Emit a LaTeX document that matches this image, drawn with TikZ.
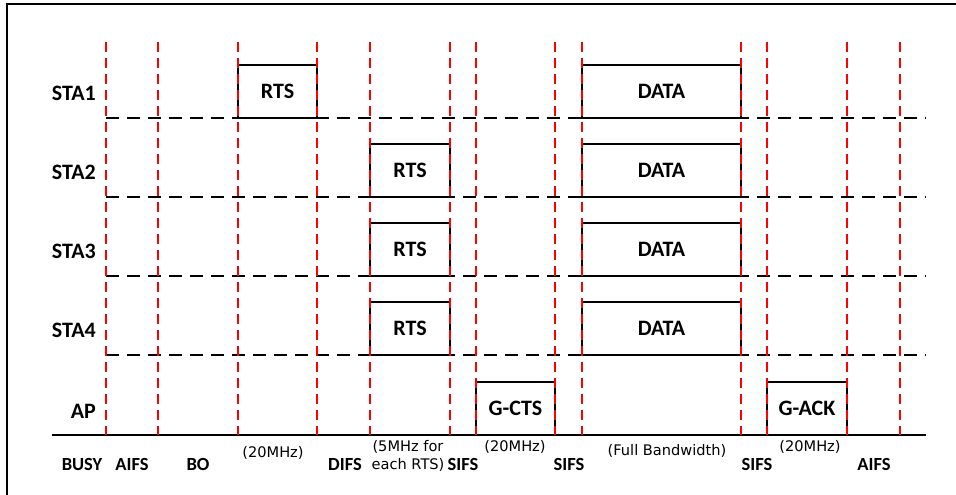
\documentclass[tikz,border=0pt]{standalone}
\usepackage{fontspec}
\setmainfont{Carlito}
\newfontfamily\djv{DejaVu Sans}
\usetikzlibrary{positioning}

\begin{document}
\begin{tikzpicture}[x=1pt, y=-1pt,
    slot/.style={draw=red, line width=1.5pt, dash pattern=on 10pt off 6pt},
    rowline/.style={draw=black, line width=1.8pt, dash pattern=on 13pt off 8pt},
    frame/.style={draw=black, line width=1.8pt},
    pkt/.style={draw=black, fill=white, line width=1.8pt, minimum height=53pt, inner sep=0pt, font=\bfseries\fontsize{22}{26}\selectfont},
    sta/.style={anchor=base east, inner sep=0pt, font=\bfseries\fontsize{22}{26}\selectfont},
    gap/.style={anchor=base, inner sep=0pt, font=\bfseries\fontsize{18.5}{22}\selectfont},
    band/.style={anchor=base, inner sep=0pt, align=center, font=\djv\fontsize{14.6}{18.3}\selectfont}]

    \useasboundingbox (0,0) rectangle (956,495);
    \draw[line width=1.5pt] (7,495) -- (7,4) -- (956,4);

    \node[sta] (sta1) at (96,100) {STA1};
    \node[sta] (sta2) at (96,179) {STA2};
    \node[sta] (sta3) at (96,258) {STA3};
    \node[sta] (sta4) at (96,337) {STA4};
    \node[sta] (ap) at (96,418) {AP};

    \draw[rowline] (106,118) -- (926,118);
    \draw[rowline] (106,197) -- (926,197);
    \draw[rowline] (106,276) -- (926,276);
    \draw[rowline] (106,355) -- (926,355);
    \draw[frame] (52,435) -- (926,435);

    \node[pkt, minimum width=79pt] (rts1) at (277.5,91.5) {RTS};
    \node[pkt, minimum width=80pt] (rts2) at (410,170.5) {RTS};
    \node[pkt, minimum width=80pt] (rts3) at (410,249.5) {RTS};
    \node[pkt, minimum width=80pt] (rts4) at (410,328.5) {RTS};

    \node[pkt, minimum width=159pt] (data1) at (661.5,91.5) {DATA};
    \node[pkt, minimum width=159pt] (data2) at (661.5,170.5) {DATA};
    \node[pkt, minimum width=159pt] (data3) at (661.5,249.5) {DATA};
    \node[pkt, minimum width=159pt] (data4) at (661.5,328.5) {DATA};

    \node[pkt, minimum width=79pt] (gcts) at (515.5,408.5) {G-CTS};
    \node[pkt, minimum width=80pt] (gack) at (807,408.5) {G-ACK};

    \draw[slot] (106,42) -- (106,435);
    \draw[slot] (158,42) -- (158,435);
    \draw[slot] (238,42) -- (238,435);
    \draw[slot] (317,42) -- (317,435);
    \draw[slot] (370,42) -- (370,435);
    \draw[slot] (450,42) -- (450,435);
    \draw[slot] (476,42) -- (476,435);
    \draw[slot] (555,42) -- (555,435);
    \draw[slot] (582,42) -- (582,435);
    \draw[slot] (741,42) -- (741,435);
    \draw[slot] (767,42) -- (767,435);
    \draw[slot] (847,42) -- (847,435);
    \draw[slot] (900,42) -- (900,435);

    \node[gap] (busy) at (82,470) {BUSY};
    \node[gap] (aifs1) at (132,470) {AIFS};
    \node[gap] (bo) at (198,470) {BO};
    \node[gap] (difs) at (345,470) {DIFS};
    \node[gap] (sifs1) at (463,470) {SIFS};
    \node[gap] (sifs2) at (569,470) {SIFS};
    \node[gap] (sifs3) at (757,470) {SIFS};
    \node[gap] (aifs2) at (874,470) {AIFS};

    \node[band] (bw1) at (273,457.3) {(20MHz)};
    \node[band, anchor=north] (bw2) at (408,440) {(5MHz for\\each RTS)};
    \node[band] (bw3) at (515,451.7) {(20MHz)};
    \node[band] (bw4) at (667,455) {(Full Bandwidth)};
    \node[band] (bw5) at (810,451.7) {(20MHz)};

\end{tikzpicture}
\end{document}
